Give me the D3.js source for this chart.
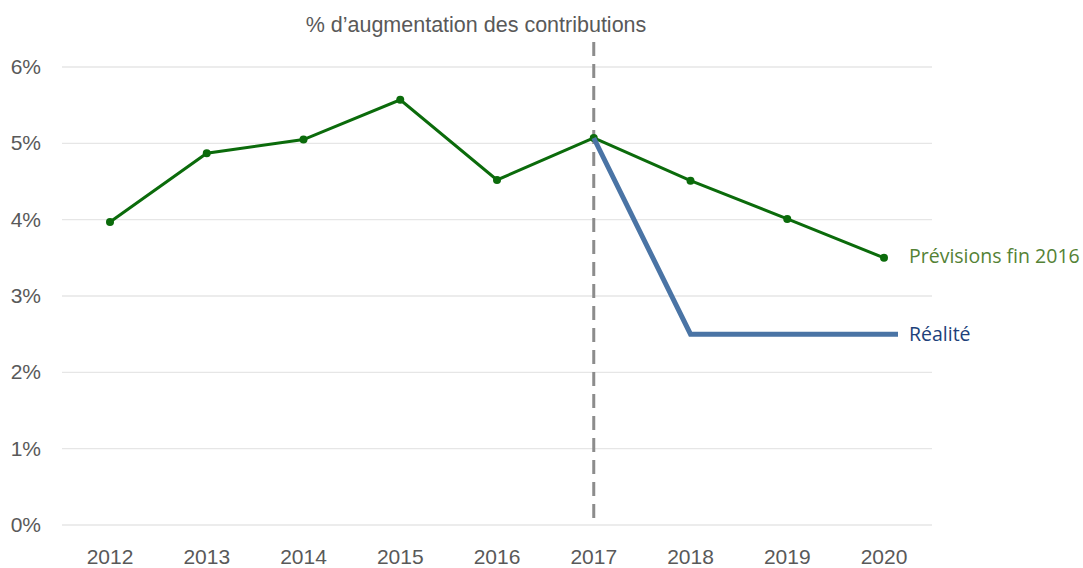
<!DOCTYPE html>
<html>
<head>
<meta charset="utf-8">
<script src="https://cdn.jsdelivr.net/npm/d3@7"></script>
<style>
  body { margin: 0; background: #fff; }
  svg text { fill: #595959; }
</style>
</head>
<body>
<svg id="chart" width="1083" height="568"></svg>
<script>
const years = ["2012", "2013", "2014", "2015", "2016", "2017", "2018", "2019", "2020"];
const previsions = [3.97, 4.87, 5.05, 5.57, 4.52, 5.07, 4.51, 4.01, 3.50];
const realiteYears = ["2017", "2018", "2019", "2020"];
const realite = [5.07, 2.5, 2.5, 2.5];
const yTicks = [0, 1, 2, 3, 4, 5, 6];

const svg = d3.select("#chart");
const condensed = "'Liberation Sans Narrow', 'Arial Narrow', sans-serif";

const x = d3.scalePoint().domain(years).range([110, 884]);
const y = d3.scaleLinear().domain([0, 6]).range([525, 67]);

// grid
svg.append("g")
    .selectAll("line")
    .data(yTicks)
    .enter()
    .append("line")
    .attr("x1", 62).attr("x2", 932)
    .attr("y1", d => y(d)).attr("y2", d => y(d))
    .attr("stroke", "#e6e6e6")
    .attr("stroke-width", 1.3);

// y labels
svg.append("g")
    .selectAll("text")
    .data(yTicks)
    .enter()
    .append("text")
    .attr("x", 41).attr("y", d => y(d) + 7)
    .attr("text-anchor", "end")
    .style("font-family", condensed)
    .style("font-size", "21px")
    .text(d => d + "%");

// x labels
svg.append("g")
    .selectAll("text")
    .data(years)
    .enter()
    .append("text")
    .attr("x", d => x(d)).attr("y", 564)
    .attr("text-anchor", "middle")
    .style("font-family", condensed)
    .style("font-size", "21px")
    .text(d => d);

// dashed separator
svg.append("line")
    .attr("x1", x("2017")).attr("x2", x("2017"))
    .attr("y1", 42).attr("y2", 522)
    .attr("stroke", "#8c8c8c")
    .attr("stroke-width", 3)
    .attr("stroke-dasharray", "14,8");

// title
svg.append("text")
    .attr("x", 476).attr("y", 32)
    .attr("text-anchor", "middle")
    .style("font-family", condensed)
    .style("font-size", "21.5px")
    .text("% d\u2019augmentation des contributions");

// green forecast line
const line = d3.line().x(d => x(d.year)).y(d => y(d.v));
const prevData = years.map((yr, i) => ({ year: yr, v: previsions[i] }));

svg.append("path")
    .datum(prevData)
    .attr("d", line)
    .attr("fill", "none")
    .attr("stroke", "#0b6b0b")
    .attr("stroke-width", 3);

svg.append("g")
    .selectAll("circle")
    .data(prevData)
    .enter()
    .append("circle")
    .attr("cx", d => x(d.year)).attr("cy", d => y(d.v))
    .attr("r", 4)
    .attr("fill", "#0b6b0b");

// blue actual line, extends a bit past 2020
const realData = realiteYears.map((yr, i) => ({ year: yr, v: realite[i] }));
const realPts = realData.map(d => [x(d.year), y(d.v)]);
const last = realPts[realPts.length - 1];
realPts.push([last[0] + 14, last[1]]);

svg.append("path")
    .datum(realPts)
    .attr("d", d3.line())
    .attr("fill", "none")
    .attr("stroke", "#4a74a5")
    .attr("stroke-width", 5);

// series labels
svg.append("text")
    .attr("x", 909).attr("y", y(previsions[previsions.length - 1]) + 5)
    .style("font-family", "'Open Sans', sans-serif")
    .style("font-size", "19.5px")
    .style("fill", "#548235")
    .text("Prévisions fin 2016");

svg.append("text")
    .attr("x", 909).attr("y", y(2.5) + 7)
    .style("font-family", "'Open Sans', sans-serif")
    .style("font-size", "19.5px")
    .style("fill", "#203f7a")
    .text("Réalité");
</script>
</body>
</html>
